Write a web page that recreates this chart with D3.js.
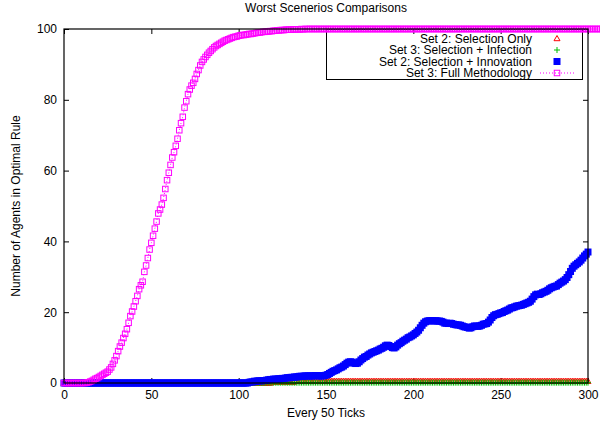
<!DOCTYPE html>
<html>
<head>
<meta charset="utf-8">
<script src="https://cdn.jsdelivr.net/npm/d3@7"></script>
<style>
  body { margin: 0; background: #fff; }
  svg { font-family: "Liberation Sans", Arial, sans-serif; font-size: 12px; }
</style>
</head>
<body>
<div id="chart"></div>
<script>
// tick labels
const ticksX = [0, 50, 100, 150, 200, 250, 300];
const ticksY = [0, 20, 40, 60, 80, 100];

const seriesNames = [
  "Set 2: Selection Only",
  "Set 3: Selection + Infection",
  "Set 2: Selection + Innovation",
  "Set 3: Full Methodology"
];

// one value per x = 0..300
const selectionOnly = [
  0,0,0,0,0,0,0,0,0,0, 0,0,0,0,0,0,0,0,0,0, 0,0,0,0,0,0,0,0,0,0, 0,0,0,0,0,0,0,0,0,0,
  0,0,0,0,0,0,0,0,0,0, 0,0,0,0,0,0,0,0,0,0, 0,0,0,0,0,0,0,0,0,0, 0,0,0,0,0,0,0,0,0,0,
  0,0,0,0,0,0,0,0,0,0, 0,0,0,0,0,0,0,0,0,0, 0,0,0,0,0,0,0,0,0,0,
  0,0,0,0,0,0,0,0,0,0.2,
  0.2,0.2,0.2,0.2,0.2,0.2,0.2,0.2,0.2,0.2,
  0.2,0.2,0.5,0.5,0.5,0.5,0.5,0.5,0.5,0.5,
  0.5,0.5,0.5,0.5,0.5,0.5,0.5,0.5,0.5,0.5, 0.5,0.5,0.5,0.5,0.5,0.5,0.5,0.5,0.5,0.5,
  0.5,0.5,0.5,0.5,0.5,0.5,0.5,0.5,0.5,0.5, 0.5,0.5,0.5,0.5,0.5,0.5,0.5,0.5,0.5,0.5,
  0.5,0.5,0.5,0.5,0.5,0.5,0.5,0.5,0.5,0.5, 0.5,0.5,0.5,0.5,0.5,0.5,0.5,0.5,0.5,0.5,
  0.5,0.5,0.5,0.5,0.5,0.5,0.5,0.5,0.5,0.5, 0.5,0.5,0.5,0.5,0.5,0.5,0.5,0.5,0.5,0.5,
  0.5,0.5,0.5,0.5,0.5,0.5,0.5,0.5,0.5,0.5, 0.5,0.5,0.5,0.5,0.5,0.5,0.5,0.5,0.5,0.5,
  0.5,0.5,0.5,0.5,0.5,0.5,0.5,0.5,0.5,0.5, 0.5,0.5,0.5,0.5,0.5,0.5,0.5,0.5,0.5,0.5,
  0.5,0.5,0.5,0.5,0.5,0.5,0.5,0.5,0.5,0.5, 0.5,0.5,0.5,0.5,0.5,0.5,0.5,0.5,0.5,0.5,
  0.5,0.5,0.5,0.5,0.5,0.5,0.5,0.5,0.5,0.5, 0.5,0.5,0.5,0.5,0.5,0.5,0.5,0.5,0.5,0.5,
  0.5
];

const selectionInfection = [
  0,0,0,0,0,0,0,0,0,0, 0,0,0,0,0,0,0,0,0,0, 0,0,0,0,0,0,0,0,0,0, 0,0,0,0,0,0,0,0,0,0,
  0,0,0,0,0,0,0,0,0,0, 0,0,0,0,0,0,0,0,0,0, 0,0,0,0,0,0,0,0,0,0, 0,0,0,0,0,0,0,0,0,0,
  0,0,0,0,0,0,0,0,0,0, 0,0,0,0,0,0,0,0,0,0, 0,0,0,0,0,0,0,0,0,0,
  0,0,0,0,0,0,0.1,0.1,0.1,0.1,
  0.1,0.1,0.1,0.1,0.1,0.1,0.1,0.1,0.1,0.1, 0.1,0.1,0.1,0.1,0.1,0.1,0.1,0.1,0.1,0.1,
  0.1,0.1,0.1,0.1,0.1,0.1,0.1,0.1,0.1,0.1, 0.1,0.1,0.1,0.1,0.1,0.1,0.1,0.1,0.1,0.1,
  0.1,0.1,0.1,0.1,0.1,0.1,0.1,0.1,0.1,0.1, 0.1,0.1,0.1,0.1,0.1,0.1,0.1,0.1,0.1,0.1,
  0.1,0.1,0.1,0.1,0.1,0.1,0.1,0.1,0.1,0.1, 0.1,0.1,0.1,0.1,0.1,0.1,0.1,0.1,0.1,0.1,
  0.1,0.1,0.1,0.1,0.1,0.1,0.1,0.1,0.1,0.1, 0.1,0.1,0.1,0.1,0.1,0.1,0.1,0.1,0.1,0.1,
  0.1,0.1,0.1,0.1,0.1,0.1,0.1,0.1,0.1,0.1, 0.1,0.1,0.1,0.1,0.1,0.1,0.1,0.1,0.1,0.1,
  0.1,0.1,0.1,0.1,0.1,0.1,0.1,0.1,0.1,0.1, 0.1,0.1,0.1,0.1,0.1,0.1,0.1,0.1,0.1,0.1,
  0.1,0.1,0.1,0.1,0.1,0.1,0.1,0.1,0.1,0.1, 0.1,0.1,0.1,0.1,0.1,0.1,0.1,0.1,0.1,0.1,
  0.1,0.1,0.1,0.1,0.1,0.1,0.1,0.1,0.1,0.1, 0.1,0.1,0.1,0.1,0.1,0.1,0.1,0.1,0.1,0.1,
  0.1
];

const selectionInnovation = [
  0,0,0,0,0,0,0,0,0,0, 0,0,0,0,0,0,0,0,0,0, 0,0,0,0,0,0,0,0,0,0, 0,0,0,0,0,0,0,0,0,0,
  0,0,0,0,0,0,0,0,0,0, 0,0,0,0,0,0,0,0,0,0, 0,0,0,0,0,0,0,0,0,0, 0,0,0,0,0,0,0,0,0,0,
  0,0,0,0,0,0,0,0,0,0, 0,0,0,0,0,0,0,0,0,0,
  0,0,0,0,0,0,0.2,0.3,0.3,0.5,
  0.5,0.6,0.6,0.6,0.7,0.7,0.8,0.9,1.0,1.0,
  1.1,1.1,1.1,1.2,1.2,1.3,1.3,1.4,1.5,1.5,
  1.6,1.6,1.7,1.7,1.8,1.9,1.9,1.9,2.0,2.0,
  2.0,2.0,2.0,2.0,2.1,2.1,2.0,2.0,2.0,2.1,
  2.2,2.4,2.7,3.0,3.3,3.5,3.7,4.0,4.3,4.5,
  4.8,5.2,5.6,5.9,6.0,5.9,5.6,5.5,5.6,6.0,
  6.5,6.9,7.3,7.5,7.9,8.2,8.5,8.7,8.9,9.1,
  9.3,9.6,9.8,10.1,10.5,10.7,10.6,10.3,10.0,9.9,
  10.2,10.7,11.1,11.4,11.8,12.1,12.4,12.8,13.0,13.3,
  13.6,14.0,14.4,14.9,15.6,16.3,16.9,17.3,17.5,17.6,
  17.6,17.6,17.5,17.6,17.5,17.5,17.4,17.2,16.9,16.9,
  16.8,16.9,16.8,16.6,16.5,16.4,16.4,16.3,16.1,15.9,
  15.8,15.7,15.5,15.6,15.9,16.1,16.1,16.0,16.1,16.3,
  16.6,16.7,16.8,17.2,17.8,18.5,19.0,19.3,19.4,19.6,
  19.8,19.9,20.2,20.4,20.6,20.9,21.2,21.3,21.5,21.7,
  21.8,21.9,22.0,22.2,22.4,22.6,22.8,23.1,23.7,24.4,
  24.9,25.1,25.0,25.2,25.5,25.7,25.9,26.2,26.6,26.9,
  27.1,27.3,27.4,27.8,28.2,28.5,28.8,29.2,29.8,30.6,
  31.5,32.4,33.0,33.4,33.8,34.2,34.7,35.3,35.9,36.4,
  37.0
];

const fullMethodology = [
  0,0,0,0,0,0,0,0,0,0,
  0,0,0,0.1,0.2,0.4,0.6,0.9,1.2,1.4,
  1.7,2.0,2.3,2.6,2.9,3.2,3.8,4.4,5.4,6.4,
  7.6,9.0,10.3,11.4,12.7,13.9,15.2,17.0,18.9,20.2,
  21.6,23.1,24.6,26.5,27.6,28.6,31.4,33.2,35.3,37.7,
  39.6,41.6,43.6,45.6,47.9,49.0,50.4,52.3,54.8,57.3,
  59.4,61.6,63.7,65.2,67.0,69.0,71.4,73.4,75.2,77.8,
  79.6,81.6,82.9,84.0,84.8,85.9,87.3,88.4,89.7,90.7,
  91.4,92.1,92.7,93.3,93.8,94.3,94.8,95.2,95.5,95.8,
  96.1,96.4,96.7,96.9,97.1,97.3,97.5,97.7,97.8,97.9,
  98.1,98.2,98.3,98.3,98.4,98.5,98.6,98.6,98.7,98.8,
  98.9,99.0,99.0,99.1,99.2,99.2,99.3,99.3,99.4,99.4,
  99.5,99.5,99.6,99.6,99.7,99.7,99.7,99.8,99.8,99.8,
  99.8,99.9,99.9,99.9,99.9,99.9,100,99.9,100,100,
  100,100,100,100,100,100,100,100,100,100, 100,100,100,100,100,100,100,100,100,100,
  100,100,100,100,100,100,100,100,100,100, 100,100,100,100,100,100,100,100,100,100,
  100,100,100,100,100,100,100,100,100,100, 100,100,100,100,100,100,100,100,100,100,
  100,100,100,100,100,100,100,100,100,100, 100,100,100,100,100,100,100,100,100,100,
  100,100,100,100,100,100,100,100,100,100, 100,100,100,100,100,100,100,100,100,100,
  100,100,100,100,100,100,100,100,100,100, 100,100,100,100,100,100,100,100,100,100,
  100,100,100,100,100,100,100,100,100,100, 100,100,100,100,100,100,100,100,100,100,
  100,100,100,100,100,100,100,100,100,100, 100,100,100,100,100,100,100,100,100,100,
  100,100,100,100,100,100,100,100,100,100, 100,100,100,100,100,100,100,100,100,100,
  100,100,100,100,100,100,100,100,100,100,
  100
];

// chart settings
const width = 600;
const height = 426;
const plotLeft = 64, plotRight = 588, plotTop = 29, plotBottom = 383;

const x = d3.scaleLinear().domain([0, 300]).range([plotLeft, plotRight]);
const y = d3.scaleLinear().domain([0, 100]).range([plotBottom, plotTop]);

const svg = d3.select("#chart").append("svg")
  .attr("width", width)
  .attr("height", height);

// title
svg.append("text")
  .attr("x", 326).attr("y", 11.5)
  .attr("text-anchor", "middle")
  .text("Worst Scenerios Comparisons");

// axes (gnuplot style: inward ticks on all four sides)
const axisStyle = (g) => {
  g.select(".domain").remove();
  g.selectAll(".tick line").attr("stroke", "#000");
  g.selectAll(".tick text").attr("fill", "#000").style("font-size", "12px")
    .style("font-family", "'Liberation Sans', Arial, sans-serif");
};

svg.append("g")
  .attr("transform", "translate(0," + plotBottom + ")")
  .call(d3.axisBottom(x).tickValues(ticksX).tickSizeInner(-5).tickSizeOuter(0).tickPadding(7))
  .call(axisStyle);

svg.append("g")
  .attr("transform", "translate(0," + plotTop + ")")
  .call(d3.axisTop(x).tickValues(ticksX).tickSizeInner(-5).tickSizeOuter(0).tickFormat(""))
  .call(axisStyle);

svg.append("g")
  .attr("transform", "translate(" + plotLeft + ",0)")
  .call(d3.axisLeft(y).tickValues(ticksY).tickSizeInner(-5).tickSizeOuter(0).tickPadding(7))
  .call(axisStyle);

svg.append("g")
  .attr("transform", "translate(" + plotRight + ",0)")
  .call(d3.axisRight(y).tickValues(ticksY).tickSizeInner(-5).tickSizeOuter(0).tickFormat(""))
  .call(axisStyle);

// axis titles
svg.append("text")
  .attr("x", 326).attr("y", 417)
  .attr("text-anchor", "middle")
  .text("Every 50 Ticks");

svg.append("text")
  .attr("transform", "translate(20," + (plotTop + plotBottom) / 2 + ") rotate(-90)")
  .attr("text-anchor", "middle")
  .text("Number of Agents in Optimal Rule");

// legend box
const legend = svg.append("g");
legend.append("rect")
  .attr("x", 326.5).attr("y", 29.5)
  .attr("width", 256).attr("height", 50)
  .attr("fill", "none").attr("stroke", "#000");

const legendY = [38.5, 50, 61.5, 73];
seriesNames.forEach((name, i) => {
  legend.append("text")
    .attr("x", 532).attr("y", legendY[i])
    .attr("dy", "0.35em")
    .attr("text-anchor", "end")
    .text(name);
});

// marker helpers
const triangle = (g, cx, cy) => g.append("path")
  .attr("d", `M${cx},${cy - 3}L${cx + 3},${cy + 2.2}L${cx - 3},${cy + 2.2}Z`)
  .attr("fill", "none").attr("stroke", "#ff0000").attr("stroke-width", 1);
const plus = (g, cx, cy) => g.append("path")
  .attr("d", `M${cx - 3},${cy}H${cx + 3}M${cx},${cy - 3}V${cy + 3}`)
  .attr("stroke", "#00c000").attr("stroke-width", 1);
const filledSquare = (g, cx, cy) => g.append("rect")
  .attr("x", cx - 3.5).attr("y", cy - 3.5).attr("width", 7).attr("height", 7)
  .attr("fill", "#0000ff");
const openSquare = (g, cx, cy) => g.append("rect")
  .attr("x", cx - 2.75).attr("y", cy - 2.75).attr("width", 5.5).attr("height", 5.5)
  .attr("fill", "none").attr("stroke", "#ff00ff").attr("stroke-width", 1);

// data series
const plot = svg.append("g");

const gRed = plot.append("g");
selectionOnly.forEach((v, i) => triangle(gRed, x(i), y(v)));

const gGreen = plot.append("g");
selectionInfection.forEach((v, i) => plus(gGreen, x(i), y(v)));

const gBlue = plot.append("g");
selectionInnovation.forEach((v, i) => filledSquare(gBlue, x(i), y(v)));

const gMag = plot.append("g");
gMag.append("path")
  .datum(fullMethodology)
  .attr("fill", "none")
  .attr("stroke", "#ff00ff")
  .attr("stroke-width", 1)
  .attr("stroke-dasharray", "1,2")
  .attr("d", d3.line().x((d, i) => x(i)).y((d) => y(d)));
fullMethodology.forEach((v, i) => openSquare(gMag, x(i), y(v)));

// legend samples
triangle(legend, 557, legendY[0]);
plus(legend, 557, legendY[1]);
filledSquare(legend, 557, legendY[2]);
legend.append("line")
  .attr("x1", 540).attr("x2", 574)
  .attr("y1", legendY[3]).attr("y2", legendY[3])
  .attr("stroke", "#ff00ff").attr("stroke-dasharray", "1,2");
openSquare(legend, 557, legendY[3]);

// frame on top
svg.append("rect")
  .attr("x", plotLeft).attr("y", plotTop)
  .attr("width", plotRight - plotLeft).attr("height", plotBottom - plotTop)
  .attr("fill", "none").attr("stroke", "#000").attr("stroke-width", 1.2);
</script>
</body>
</html>
